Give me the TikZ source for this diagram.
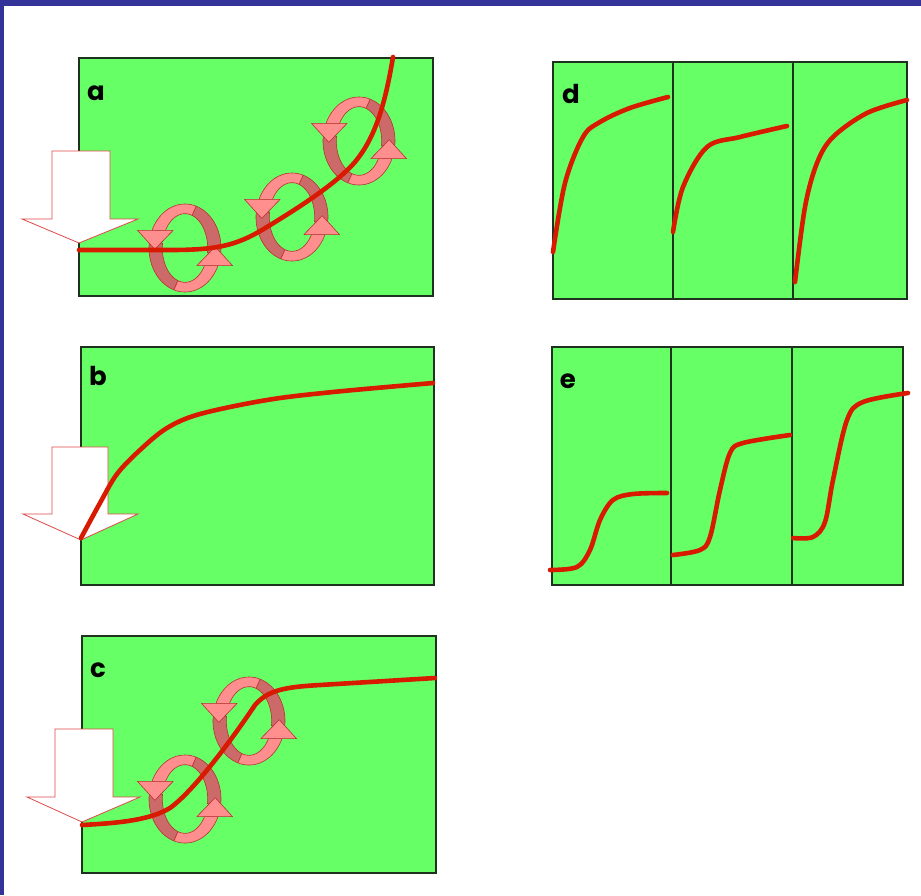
\documentclass[tikz,border=0pt]{standalone}
\usepackage{fontspec}
\newfontfamily\labelfont{Poppins}
\definecolor{frameblue}{HTML}{333399}
\definecolor{panelgreen}{HTML}{66FF66}
\definecolor{paneledge}{HTML}{1E321E}
\definecolor{tracered}{HTML}{D81A00}
\definecolor{arrowedge}{HTML}{E04848}
\definecolor{rotlight}{HTML}{FF8F8F}
\definecolor{rotdark}{HTML}{CC6A6A}
\definecolor{rotline}{HTML}{B83030}
\tikzset{
  panel/.style={fill=panelgreen, draw=paneledge, line width=1.5pt},
  trace/.style={draw=tracered, line width=4.6pt, line cap=round, line join=round},
  inflow/.style={fill=white, draw=arrowedge, line width=0.8pt, line join=miter},
  tag/.style={font=\labelfont\bfseries\fontsize{26}{26}\selectfont, inner sep=0pt},
  rotfill/.style={fill=#1, draw=rotline, line width=0.6pt, line join=round},
}
% ribbon between outer angles #1..#2 and inner angles #3..#1
\newcommand\ribbonpart[4]{%
  \filldraw[rotfill=#4] plot[domain=#1:#2, samples=24] ({cos(\x)},{sin(\x)})
    -- plot[domain=#3:#1, samples=24] ({0.63*cos(\x)},{0.78*sin(\x)}) -- cycle;}
% a rotation loop: two curved arrows round an ellipse centred at (#1,#2)
\newcommand\rotor[2]{%
  \begin{scope}[xshift=#1pt, yshift=-#2pt, x=36pt, y=44pt]
    \ribbonpart{-8}{72}{72}{rotdark}
    \ribbonpart{172}{252}{252}{rotdark}
    \ribbonpart{72}{156.4}{149.1}{rotlight}
    \filldraw[rotfill=rotlight] (-1.32,0.40) -- (-0.84,-0.03) -- (-0.33,0.40) -- cycle;
    \ribbonpart{252}{336.4}{329.1}{rotlight}
    \filldraw[rotfill=rotlight] (1.32,-0.40) -- (0.84,0.03) -- (0.33,-0.40) -- cycle;
  \end{scope}}
\begin{document}
\begin{tikzpicture}[x=1pt, y=-1pt]
  \useasboundingbox (0,0) rectangle (921,895);
  \fill[white] (0,0) rectangle (921,895);
  \fill[frameblue] (0,0) rectangle (921,6);
  \fill[frameblue] (0,0) rectangle (4,895);

  % ---- panel a ----
  \draw[panel] (79,58) rectangle (433,296);
  \node[tag] (la) at (96,93) {a};
  \rotor{185}{248}
  \rotor{292}{217}
  \rotor{359}{141}
  \draw[inflow] (52,151) -- (110,151) -- (110,219) -- (138,219) -- (79,243)
    -- (22,219) -- (52,219) -- cycle;
  \draw[trace] (79,250) -- (170,250) .. controls (215,250) and (235,246) .. (262,230)
    .. controls (295,210) and (335,185) .. (355,162)
    .. controls (375,138) and (385,105) .. (393,57);

  % ---- panel b ----
  \draw[panel] (81,347) rectangle (434,585);
  \node[tag] (lb) at (98,376) {b};
  \draw[inflow] (52,447) -- (108,447) -- (108,514) -- (138,514) -- (81,540)
    -- (23,514) -- (52,514) -- cycle;
  \draw[trace] plot[smooth, tension=0.55] coordinates {(81,538) (100,503) (117,474)
    (140,450) (167,428) (200,414) (267,400) (333,392) (433,383)};

  % ---- panel c ----
  \draw[panel] (82,636) rectangle (436,873);
  \node[tag] (lc) at (98,670) {c};
  \rotor{185}{799}
  \rotor{249}{721}
  \draw[inflow] (55,729) -- (113,729) -- (113,797) -- (140,797) -- (82,822)
    -- (27,797) -- (55,797) -- cycle;
  \draw[trace] (82,825) .. controls (120,823) and (150,820) .. (170,808)
    .. controls (195,790) and (235,735) .. (255,705)
    .. controls (268,690) and (285,687) .. (320,685) -- (435,678);

  % ---- panel d ----
  \draw[panel] (553,62) rectangle (673,299);
  \draw[panel] (673,62) rectangle (793,299);
  \draw[panel] (793,62) rectangle (907,299);
  \node[tag] (ld) at (571,94) {d};
  \draw[trace] plot[smooth, tension=0.55] coordinates {(553,252) (565,183) (583,137)
    (600,122) (630,108) (668,97)};
  \draw[trace] plot[smooth, tension=0.55] coordinates {(673,232) (683,187) (707,147)
    (740,137) (787,126)};
  \draw[trace] plot[smooth, tension=0.55] coordinates {(795,282) (805,207) (817,163)
    (833,137) (867,113) (907,100)};

  % ---- panel e ----
  \draw[panel] (552,347) rectangle (671,585);
  \draw[panel] (671,347) rectangle (792,585);
  \draw[panel] (792,347) rectangle (903,585);
  \node[tag] (le) at (568,381) {e};
  \draw[trace] plot[smooth, tension=0.55] coordinates {(550,570) (577,567) (590,550)
    (600,520) (613,500) (633,494) (667,493)};
  \draw[trace] plot[smooth, tension=0.55] coordinates {(673,555) (700,550) (710,537)
    (720,490) (730,453) (743,443) (790,435)};
  \draw[trace] plot[smooth, tension=0.55] coordinates {(793,538) (813,537) (825,522)
    (833,480) (847,420) (863,402) (908,393)};
\end{tikzpicture}
\end{document}
